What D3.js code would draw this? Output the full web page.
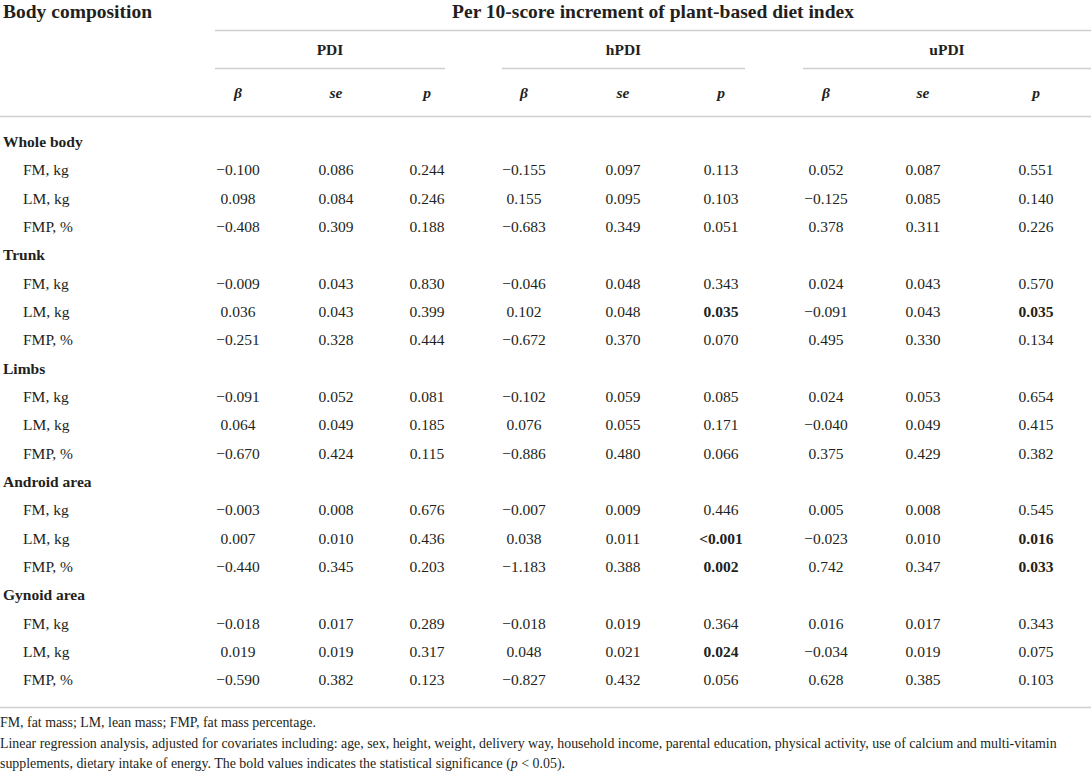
<!DOCTYPE html>
<html>
<head>
<meta charset="utf-8">
<script src="https://cdn.jsdelivr.net/npm/d3@7"></script>
<style>
  body { margin: 0; background: #fff; }
  text { font-family: "Liberation Serif", "Times New Roman", serif; fill: #231f20; }
</style>
</head>
<body>
<div id="table"></div>
<script>
// rows of the table
var regions = ["Whole body", "Trunk", "Limbs", "Android area", "Gynoid area"];
var measures = ["FM, kg", "LM, kg", "FMP, %"];
var indices = ["PDI", "hPDI", "uPDI"];
var stats = ["β", "se", "p"];

// beta / se / p per index, rows in order region x measure
var pdiBeta  = [-0.100, 0.098, -0.408, -0.009, 0.036, -0.251, -0.091, 0.064, -0.670, -0.003, 0.007, -0.440, -0.018, 0.019, -0.590];
var pdiSe    = [0.086, 0.084, 0.309, 0.043, 0.043, 0.328, 0.052, 0.049, 0.424, 0.008, 0.010, 0.345, 0.017, 0.019, 0.382];
var pdiP     = ["0.244", "0.246", "0.188", "0.830", "0.399", "0.444", "0.081", "0.185", "0.115", "0.676", "0.436", "0.203", "0.289", "0.317", "0.123"];
var hpdiBeta = [-0.155, 0.155, -0.683, -0.046, 0.102, -0.672, -0.102, 0.076, -0.886, -0.007, 0.038, -1.183, -0.018, 0.048, -0.827];
var hpdiSe   = [0.097, 0.095, 0.349, 0.048, 0.048, 0.370, 0.059, 0.055, 0.480, 0.009, 0.011, 0.388, 0.019, 0.021, 0.432];
var hpdiP    = ["0.113", "0.103", "0.051", "0.343", "0.035", "0.070", "0.085", "0.171", "0.066", "0.446", "<0.001", "0.002", "0.364", "0.024", "0.056"];
var updiBeta = [0.052, -0.125, 0.378, 0.024, -0.091, 0.495, 0.024, -0.040, 0.375, 0.005, -0.023, 0.742, 0.016, -0.034, 0.628];
var updiSe   = [0.087, 0.085, 0.311, 0.043, 0.043, 0.330, 0.053, 0.049, 0.429, 0.008, 0.010, 0.347, 0.017, 0.019, 0.385];
var updiP    = ["0.551", "0.140", "0.226", "0.570", "0.035", "0.134", "0.654", "0.415", "0.382", "0.545", "0.016", "0.033", "0.343", "0.075", "0.103"];

var w = 1091, h = 779;
var fmt = d3.format(".3f");
var lineColor = "#cfcfcf";

var svg = d3.select("#table").append("svg")
    .attr("width", w)
    .attr("height", h);

svg.append("rect").attr("width", w).attr("height", h).attr("fill", "#fff");

// build body rows: a section heading then its three measures
var rows = [];
var k = 0;
regions.forEach(function(r) {
    rows.push({ label: r, section: true });
    measures.forEach(function(m) {
        rows.push({
            label: m, section: false,
            cells: [fmt(pdiBeta[k]), fmt(pdiSe[k]), pdiP[k],
                    fmt(hpdiBeta[k]), fmt(hpdiSe[k]), hpdiP[k],
                    fmt(updiBeta[k]), fmt(updiSe[k]), updiP[k]]
        });
        k++;
    });
});

var y = d3.scaleBand()
    .domain(d3.range(rows.length))
    .range([127.5, 127.5 + rows.length * 28.33]);

// column centres and group spans
var colKeys = [];
indices.forEach(function(g) { stats.forEach(function(s) { colKeys.push(g + s); }); });
var x = d3.scaleOrdinal()
    .domain(colKeys)
    .range([238, 336, 427, 524, 623, 721, 826, 923, 1036]);
var groupSpan = d3.scaleOrdinal()
    .domain(indices)
    .range([[215, 445], [502, 745], [803, 1091]]);

function isSig(p) {
    return p.charAt(0) == "<" || +p < 0.05;
}

// rules
function rule(x1, x2, yy) {
    svg.append("line")
        .attr("x1", x1).attr("x2", x2)
        .attr("y1", yy).attr("y2", yy)
        .attr("stroke", lineColor)
        .attr("stroke-width", 1.6);
}
rule(215, w, 30.5);
indices.forEach(function(g) { rule(groupSpan(g)[0], groupSpan(g)[1], 68.5); });
rule(0, w, 116.5);
rule(0, w, 707.5);

// header
svg.append("text")
    .attr("x", 3).attr("y", 18)
    .style("font-size", "19.5px").style("font-weight", "bold")
    .text("Body composition");

svg.append("text")
    .attr("x", (215 + w) / 2).attr("y", 18)
    .attr("text-anchor", "middle")
    .style("font-size", "19.5px").style("font-weight", "bold")
    .text("Per 10-score increment of plant-based diet index");

svg.selectAll(".grp")
    .data(indices)
    .enter().append("text")
    .attr("class", "grp")
    .attr("x", function(d) { return (groupSpan(d)[0] + groupSpan(d)[1]) / 2; })
    .attr("y", 50)
    .attr("dy", "0.35em")
    .attr("text-anchor", "middle")
    .style("font-size", "15.5px").style("font-weight", "bold")
    .text(function(d) { return d; });

svg.selectAll(".stat")
    .data(colKeys)
    .enter().append("text")
    .attr("class", "stat")
    .attr("x", function(d) { return x(d); })
    .attr("y", 93)
    .attr("dy", "0.35em")
    .attr("text-anchor", "middle")
    .style("font-size", "15.5px").style("font-weight", "bold").style("font-style", "italic")
    .text(function(d, i) { return stats[i % 3]; });

// body
var row = svg.selectAll(".row")
    .data(rows)
    .enter().append("g")
    .attr("class", "row")
    .attr("transform", function(d, i) { return "translate(0," + (y(i) + y.bandwidth() / 2) + ")"; });

row.append("text")
    .attr("x", function(d) { return d.section ? 3 : 23; })
    .attr("dy", "0.35em")
    .style("font-size", "15.5px")
    .style("font-weight", function(d) { return d.section ? "bold" : "normal"; })
    .text(function(d) { return d.label; });

row.filter(function(d) { return !d.section; })
    .selectAll(".cell")
    .data(function(d) { return d.cells; })
    .enter().append("text")
    .attr("class", "cell")
    .attr("x", function(d, i) { return x(colKeys[i]); })
    .attr("dy", "0.35em")
    .attr("text-anchor", "middle")
    .style("font-size", "15.5px")
    .style("font-weight", function(d, i) { return (i % 3 == 2 && isSig(d)) ? "bold" : "normal"; })
    .text(function(d) { return d; });

// footnotes
var notes = svg.append("g").style("font-size", "13.9px");
notes.append("text").attr("x", 0).attr("y", 727)
    .text("FM, fat mass; LM, lean mass; FMP, fat mass percentage.");
notes.append("text").attr("x", 0).attr("y", 748)
    .text("Linear regression analysis, adjusted for covariates including: age, sex, height, weight, delivery way, household income, parental education, physical activity, use of calcium and multi-vitamin");
var n3 = notes.append("text").attr("x", 0).attr("y", 768);
n3.append("tspan").text("supplements, dietary intake of energy. The bold values indicates the statistical significance (");
n3.append("tspan").style("font-style", "italic").text("p");
n3.append("tspan").text(" < 0.05).");
</script>
</body>
</html>
